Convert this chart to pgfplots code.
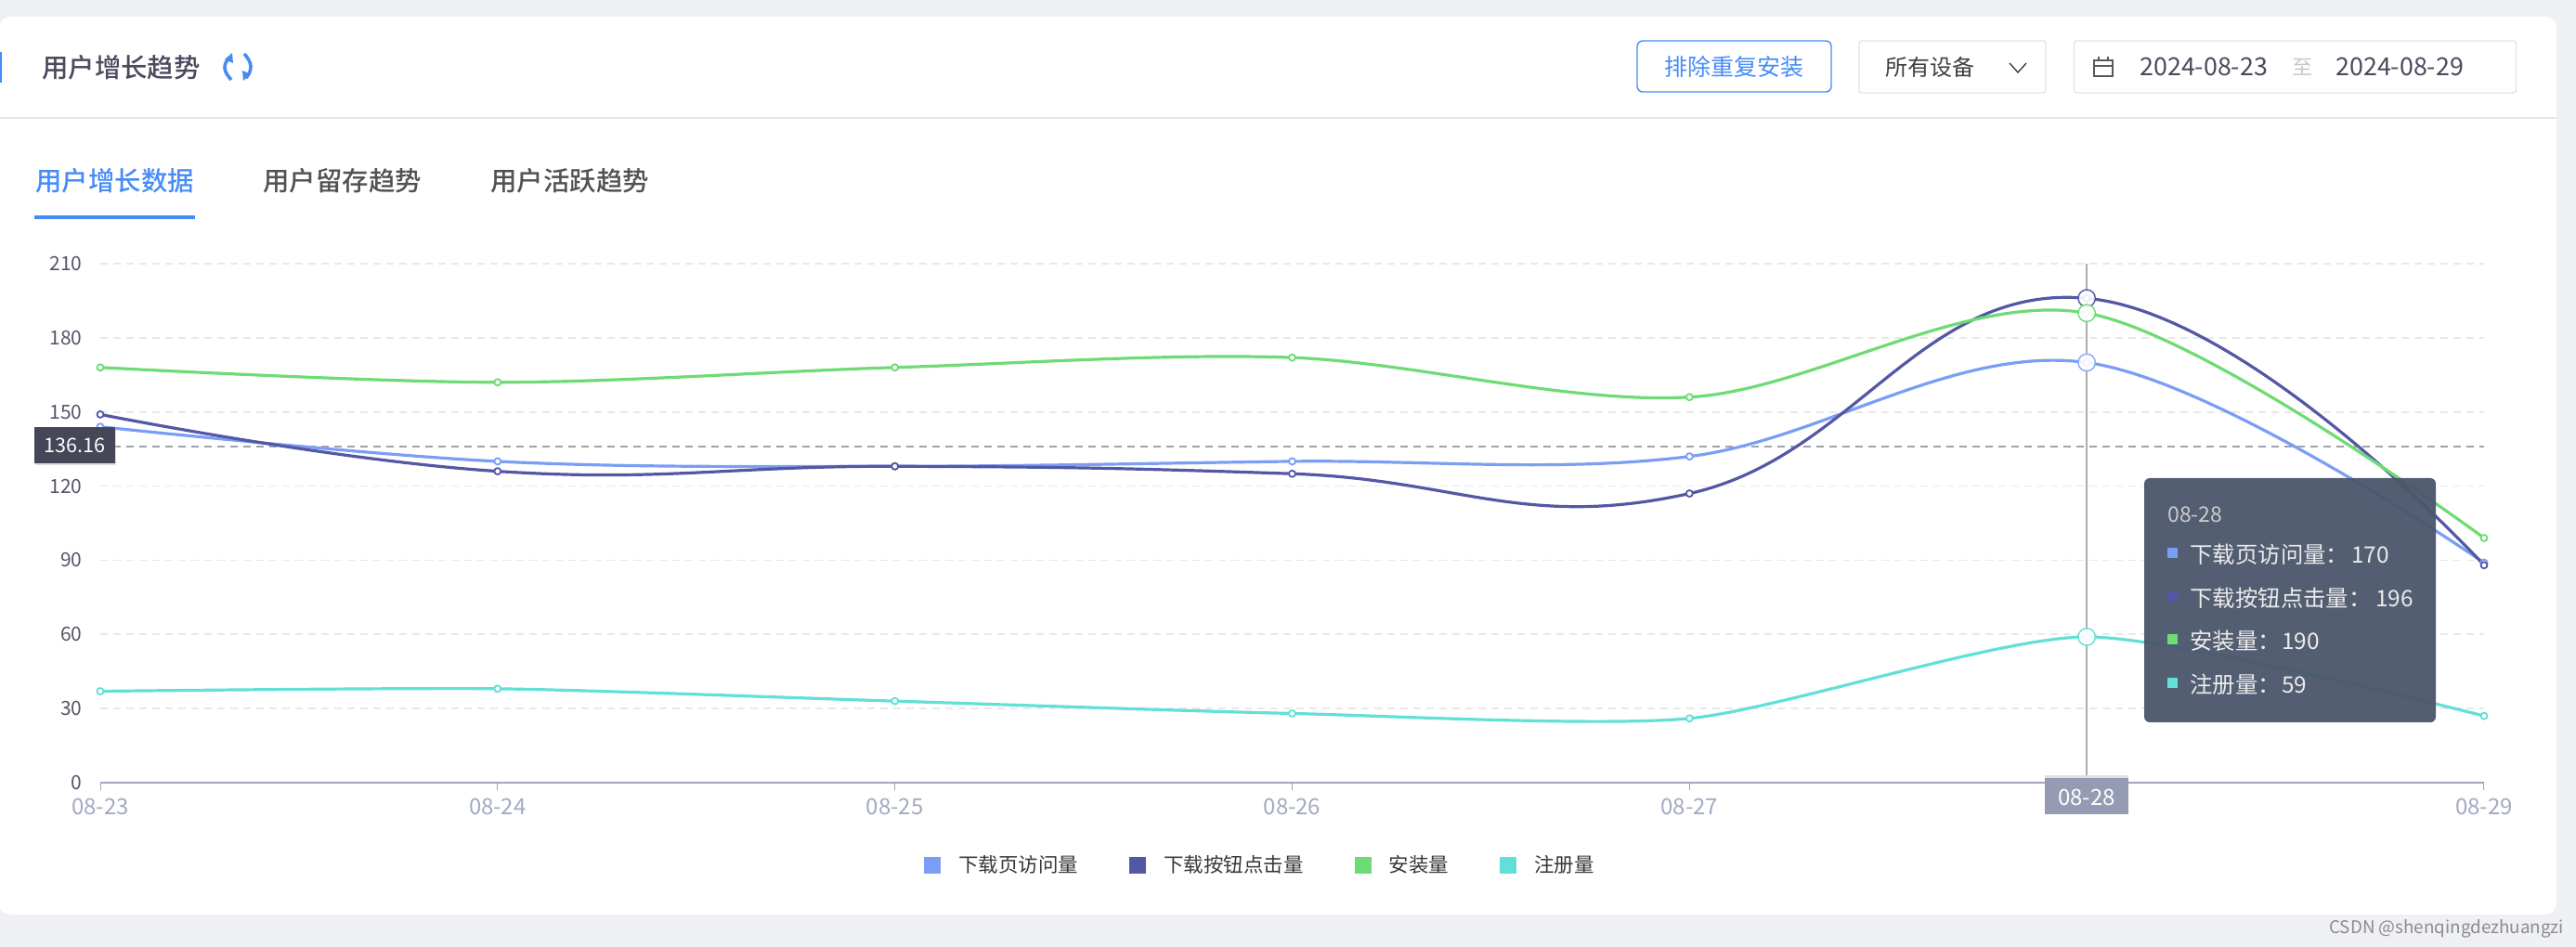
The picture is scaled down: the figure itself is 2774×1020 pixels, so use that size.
\documentclass[border=0pt]{standalone}
\usepackage{fontspec}
\setmainfont{Noto Sans CJK SC}
\newfontfamily\med{Noto Sans CJK SC Medium}
\usepackage{pgfplots}
\pgfplotsset{compat=1.18}
\definecolor{pagebg}{HTML}{EFF0F4}
\definecolor{c1}{HTML}{7B9EF5}
\definecolor{c2}{HTML}{5458A4}
\definecolor{c3}{HTML}{6FDB74}
\definecolor{c4}{HTML}{62E0D8}
\definecolor{axc}{HTML}{A0A5BD}
\definecolor{xlab}{HTML}{A4A9C2}
\definecolor{xbox}{HTML}{959BB2}
\definecolor{ylab}{HTML}{55556A}
\definecolor{blueui}{HTML}{468CF6}
\definecolor{border}{HTML}{E2E4EA}
\definecolor{tip}{HTML}{4A566B}
\definecolor{ink}{HTML}{4A4A5E}
\newcommand\fs[1]{\fontsize{#1}{#1}\selectfont}
\pgfplotstableread{
x light dark green cyan
0 144 149 168 37
1 130 126 162 38
2 128 128 168 33
3 130 125 172 28
4 132 117 156 26
5 170 196 190 59
6 89 88 99 27
}\datatable
\begin{document}
\begin{tikzpicture}
\begin{scope}[x=0.5pt,y=-0.5pt]
\useasboundingbox (0,0) rectangle (2774,1020);
\fill[pagebg] (0,0) rectangle (2774,1020);
\fill[white,rounded corners=6pt] (-1,18) rectangle (2753,985);
\draw[border,line width=0.8pt] (0,127) -- (2753,127);
\fill[blueui] (0,56) rectangle (2,89);
\node[anchor=west,inner sep=0,text=ink,font=\fs{14.2}\med] at (45,73) {用户增长趋势};
% refresh icon
\draw[blueui,line width=1.8pt] (247,62) .. controls (240,70) and (240,76) .. (249,86);
\draw[blueui,line width=1.8pt] (265,84) .. controls (272,75) and (272,68) .. (263,58);
\fill[blueui] (242,64) -- (250,57) -- (251,68) -- cycle;
\fill[blueui] (270,80) -- (262,87) -- (261,76) -- cycle;
% tabs
\node[anchor=west,inner sep=0,text=blueui,font=\fs{14.2}\med] at (38,195) {用户增长数据};
\node[anchor=west,inner sep=0,text=black!68,font=\fs{14.2}\med] at (283,195) {用户留存趋势};
\node[anchor=west,inner sep=0,text=black!68,font=\fs{14.2}\med] at (528,195) {用户活跃趋势};
\fill[blueui] (37,232) rectangle (210,236);
% controls
\draw[blueui,line width=0.7pt,rounded corners=3pt] (1763,44) rectangle (1972,99);
\node[anchor=center,inner sep=0,text=blueui,font=\fs{12.5}] at (1867.5,72) {排除重复安装};
\draw[border,line width=0.7pt,rounded corners=1.5pt] (2002,44) rectangle (2203,100);
\node[anchor=west,inner sep=0,text=black!75,font=\fs{12}] at (2030,72) {所有设备};
\draw[black!85,line width=0.6pt] (2164,68) -- (2173,78) -- (2182,68);
\draw[border,line width=0.7pt,rounded corners=1.5pt] (2233.5,44) rectangle (2709.5,100);
\draw[black!65,line width=0.7pt] (2255,65) rectangle (2275,82);
\draw[black!65,line width=0.7pt] (2255,71) -- (2275,71) (2260,61) -- (2260,66) (2270,61) -- (2270,66);
\node[anchor=west,inner sep=0,text=ink,font=\fs{13.4}] at (2304,72) {2024-08-23};
\node[anchor=center,inner sep=0,text=black!22,font=\fs{11}] at (2479.5,72) {至};
\node[anchor=west,inner sep=0,text=ink,font=\fs{13.4}] at (2515,72) {2024-08-29};
\node[anchor=east,inner sep=0,text=black!45,font=\fs{9.4}] at (2761,1000) {CSDN @shenqingdezhuangzi};
\end{scope}
\begin{axis}[
  at={(54pt,-421.5pt)}, anchor=south west,
  scale only axis, width=1283.5pt, height=279.5pt,
  xmin=0, xmax=6, ymin=0, ymax=210,
  clip=false,
  axis x line*=bottom, axis y line*=left,
  y axis line style={draw=none},
  x axis line style={draw=axc,line width=1pt,-},
  xtick={0,1,2,3,4,5,6},
  xticklabels={08-23,08-24,08-25,08-26,08-27,,08-29},
  ytick={0,30,60,90,120,150,180,210},
  tick align=outside,
  major tick length=4pt,
  xtick style={draw=axc,line width=0.5pt},
  ytick style={draw=none},
  xticklabel style={text=xlab,font=\fs{12},inner sep=0pt,yshift=-4.5pt},
  yticklabel style={text=ylab,font=\fs{10.5},inner sep=0pt,xshift=-5.5pt},
  /pgf/number format/assume math mode=true,
  ymajorgrids,
  grid style={draw=black!9,line width=0.8pt,dash pattern=on 4pt off 3pt},
  legend columns=-1,
  legend cell align=left,
  legend image code/.code={\fill[#1,draw=none] (0pt,-4.5pt) rectangle (9pt,4.5pt);},
  legend style={at={(0.4862,-0.159)},anchor=center,draw=none,fill=none,inner sep=0pt,
    font=\fs{10.75},text=black!78,
    nodes={inner sep=0pt},
    /tikz/every odd column/.style={column sep=9.5pt},
    /tikz/every even column/.style={column sep=27.5pt}},
  every axis plot/.append style={smooth,line width=1.6pt,
    mark=*,mark size=1.75pt,mark options={solid,fill=white,line width=0.9pt}},
]
\addplot[color=axc!80!black,forget plot,no marks,sharp plot,line width=1pt,dash pattern=on 4pt off 3pt,opacity=0.75] coordinates {(0,136.16) (6,136.16)};
\addplot[color=c1,tension=0.6] table[x=x,y=light] {\datatable};
\addlegendentry{下载页访问量}
\addplot[color=c2,tension=0.75] table[x=x,y=dark] {\datatable};
\addlegendentry{下载按钮点击量}
\addplot[color=c3,tension=0.55] table[x=x,y=green] {\datatable};
\addlegendentry{安装量}
\addplot[color=c4,tension=0.4] table[x=x,y=cyan] {\datatable};
\addlegendentry{注册量}
\addplot[color=black!32,forget plot,no marks,sharp plot,line width=0.8pt] coordinates {(5,0) (5,210)};
\addplot[only marks,forget plot,mark=*,mark size=4.6pt,mark options={draw=c1!90,fill=white,fill opacity=0.9,line width=0.7pt}] coordinates {(5,170)};
\addplot[only marks,forget plot,mark=*,mark size=4.6pt,mark options={draw=c2,fill=white,fill opacity=0.9,line width=0.7pt}] coordinates {(5,196)};
\addplot[only marks,forget plot,mark=*,mark size=4.6pt,mark options={draw=c3,fill=white,fill opacity=0.9,line width=0.7pt}] coordinates {(5,190)};
\addplot[only marks,forget plot,mark=*,mark size=4.6pt,mark options={draw=c4,fill=white,fill opacity=0.9,line width=0.7pt}] coordinates {(5,59)};
\end{axis}
\begin{scope}[x=0.5pt,y=-0.5pt]
% average label
\fill[black!25,opacity=0.5] (38,461) rectangle (125,501);
\fill[ink!95!black] (37,460) rectangle (124,499);
\node[inner sep=0,text=white,font=\fs{10.8}] at (80.5,479.5) {136.16};
% crosshair x label
\fill[black!12] (2201.5,835) rectangle (2292,838);
\fill[xbox] (2201.5,838) rectangle (2292,877);
\node[inner sep=0,text=white,font=\fs{12}] at (2247,859) {08-28};
% tooltip
\fill[tip,fill opacity=0.95,rounded corners=3pt] (2309,515) rectangle (2623,778);
\node[anchor=west,inner sep=0,text=black!20,font=\fs{11.5}] at (2334,554.5) {08-28};
\fill[c1] (2334,590.5) rectangle (2345,601.5);
\fill[c2] (2334,637.5) rectangle (2345,648.5);
\fill[c3] (2334,683.5) rectangle (2345,694.5);
\fill[c4] (2334,730.5) rectangle (2345,741.5);
\node[anchor=west,inner sep=0,text=white!92!black,font=\fs{12.2}] at (2358,597.5) {下载页访问量：};
\node[anchor=west,inner sep=0,text=white!92!black,font=\fs{12.2}] at (2532,597.5) {170};
\node[anchor=west,inner sep=0,text=white!92!black,font=\fs{12.2}] at (2358,644.5) {下载按钮点击量：};
\node[anchor=west,inner sep=0,text=white!92!black,font=\fs{12.2}] at (2558,644.5) {196};
\node[anchor=west,inner sep=0,text=white!92!black,font=\fs{12.2}] at (2358,690.5) {安装量：};
\node[anchor=west,inner sep=0,text=white!92!black,font=\fs{12.2}] at (2457,690.5) {190};
\node[anchor=west,inner sep=0,text=white!92!black,font=\fs{12.2}] at (2358,737.5) {注册量：};
\node[anchor=west,inner sep=0,text=white!92!black,font=\fs{12.2}] at (2457,737.5) {59};
\end{scope}
\end{tikzpicture}
\end{document}
